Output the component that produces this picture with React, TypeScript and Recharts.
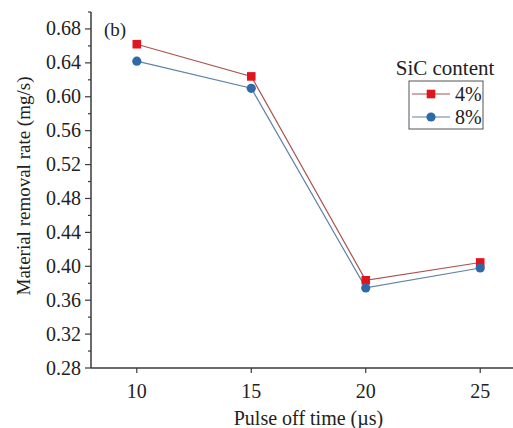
import React from 'react';
import { LineChart, Line, XAxis, YAxis, Legend, Label } from 'recharts';

const pulseOffTime = [10, 15, 20, 25];
const sic4 = [0.662, 0.624, 0.3835, 0.4045];
const sic8 = [0.642, 0.61, 0.3745, 0.398];
const seriesNames = ['4%', '8%'];
const legendTitle = 'SiC content';
const panelTag = '(b)';
const xTitle = 'Pulse off time (\u00b5s)';
const yTitle = 'Material removal rate (mg/s)';
const xTicks = [10, 15, 20, 25];
const yTicks = [0.28, 0.3, 0.32, 0.34, 0.36, 0.38, 0.4, 0.42, 0.44, 0.46, 0.48, 0.5, 0.52, 0.54, 0.56, 0.58, 0.6, 0.62, 0.64, 0.66, 0.68, 0.7];

const data = pulseOffTime.map((t, i) => ({ t, s4: sic4[i], s8: sic8[i] }));

const FONT = '"Liberation Serif", "Times New Roman", serif';
const TEXT = '#222';
const AXIS = '#3a3a3a';
const RED = '#e0161f';
const RED_LINE = '#a85450';
const BLUE = '#2f6aa6';
const BLUE_LINE = '#5f82a6';

const YTick = (props: any) => {
  const { x, y, payload } = props;
  const v = Math.round(payload.value * 100);
  const major = v % 4 === 0;
  return (
    <g>
      <line x1={x - (major ? 6 : 3)} x2={x} y1={y} y2={y} stroke={AXIS} strokeWidth={1.2} />
      {major && (
        <text x={x - 10} y={y} dy={6.5} textAnchor="end" fontFamily={FONT} fontSize={20} fill={TEXT}>
          {payload.value.toFixed(2)}
        </text>
      )}
    </g>
  );
};

const XTick = (props: any) => {
  const { x, y, payload } = props;
  return (
    <g>
      <line x1={x} x2={x} y1={y} y2={y + 5} stroke={AXIS} strokeWidth={1.2} />
      <text x={x} y={y + 30} textAnchor="middle" fontFamily={FONT} fontSize={20} fill={TEXT}>
        {payload.value}
      </text>
    </g>
  );
};

const SquareDot = (props: any) => {
  const { cx, cy } = props;
  if (cx == null || cy == null) return null;
  return <rect x={cx - 4.3} y={cy - 4.3} width={8.6} height={8.6} fill={RED} />;
};

const CircleDot = (props: any) => {
  const { cx, cy } = props;
  if (cx == null || cy == null) return null;
  return <circle cx={cx} cy={cy} r={4.6} fill={BLUE} />;
};

const LegendContent = (props: any) => {
  const items = (props.payload || []).filter((p: any) => p.type !== 'none');
  return (
    <svg width={125} height={80} style={{ display: 'block' }}>
      <text x={57} y={23} textAnchor="middle" fontFamily={FONT} fontSize={21} fill={TEXT}>
        {legendTitle}
      </text>
      <rect x={21} y={29} width={74} height={48} fill="white" stroke="#555" strokeWidth={1} />
      {items.map((it: any, i: number) => {
        const cy = 42 + i * 23;
        const isRed = i === 0;
        return (
          <g key={i}>
            <line x1={24} x2={62} y1={cy} y2={cy} stroke={isRed ? RED_LINE : BLUE_LINE} strokeWidth={1.2} />
            {isRed ? (
              <rect x={43 - 4.3} y={cy - 4.3} width={8.6} height={8.6} fill={RED} />
            ) : (
              <circle cx={43} cy={cy} r={4.6} fill={BLUE} />
            )}
            <text x={67} y={cy + 7} fontFamily={FONT} fontSize={20} fill={TEXT}>
              {it.value}
            </text>
          </g>
        );
      })}
    </svg>
  );
};

export default function App() {
  return (
    <div style={{ position: 'absolute', left: 0, top: 0, width: 513, height: 428, overflow: 'hidden', background: 'white' }}>
      <LineChart width={540} height={428} data={data} margin={{ top: 12, right: 14, bottom: 20, left: 0 }}>
        <XAxis
          dataKey="t"
          type="number"
          domain={[8, 27]}
          ticks={xTicks}
          tick={<XTick />}
          tickLine={false}
          tickSize={0}
          tickMargin={0}
          height={40}
          axisLine={{ stroke: AXIS, strokeWidth: 1.5 }}
          interval={0}
        >
          <Label
            content={(p: any) => {
              const vb = p.viewBox || {};
              return (
                <text x={vb.x + vb.width / 2} y={vb.y + 57} textAnchor="middle" fontFamily={FONT} fontSize={20} fill={TEXT}>
                  {xTitle}
                </text>
              );
            }}
          />
        </XAxis>
        <XAxis
          xAxisId="top"
          dataKey="t"
          type="number"
          orientation="top"
          domain={[8, 27]}
          height={0}
          tick={false}
          tickLine={false}
          axisLine={{ stroke: AXIS, strokeWidth: 1.5 }}
        />
        <YAxis
          type="number"
          domain={[0.28, 0.7]}
          ticks={yTicks}
          tick={<YTick />}
          tickLine={false}
          tickSize={0}
          tickMargin={0}
          width={91}
          interval={0}
          axisLine={{ stroke: AXIS, strokeWidth: 1.5 }}
        >
          <Label
            content={(p: any) => {
              const vb = p.viewBox || {};
              const cx = 23;
              const cy = vb.y + vb.height / 2 - 4;
              return (
                <text
                  x={cx}
                  y={cy}
                  transform={`rotate(-90 ${cx} ${cy})`}
                  textAnchor="middle"
                  dominantBaseline="central"
                  fontFamily={FONT}
                  fontSize={19}
                  fill={TEXT}
                >
                  {yTitle}
                </text>
              );
            }}
          />
        </YAxis>
        <Legend
          layout="horizontal"
          verticalAlign="middle"
          align="center"
          content={<LegendContent />}
          wrapperStyle={{ position: 'absolute', left: 388, top: 52, width: 125, height: 80 }}
        />
        <Line
          dataKey="s4"
          name={seriesNames[0]}
          stroke={RED_LINE}
          strokeWidth={1.2}
          dot={<SquareDot />}
          activeDot={false}
          isAnimationActive={false}
        />
        <Line
          dataKey="s8"
          name={seriesNames[1]}
          stroke={BLUE_LINE}
          strokeWidth={1.2}
          dot={<CircleDot />}
          activeDot={false}
          isAnimationActive={false}
        />
        <text x={104} y={36} fontFamily={FONT} fontSize={19} fill={TEXT}>
          {panelTag}
        </text>
      </LineChart>
    </div>
  );
}
